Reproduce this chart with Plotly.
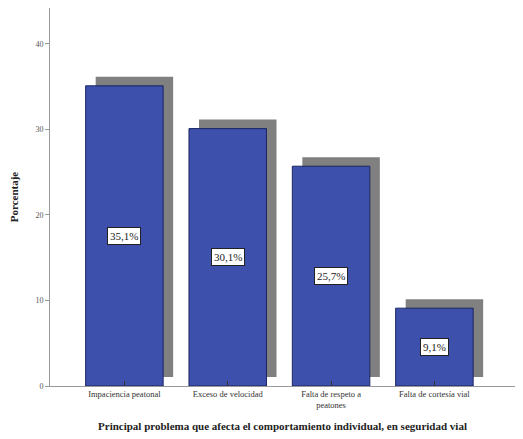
import plotly.graph_objects as go

categories = ["Impaciencia peatonal", "Exceso de velocidad", "Falta de respeto a<br>peatones", "Falta de cortesía vial"]
values = [35.1, 30.1, 25.7, 9.1]
labels = ["35,1%", "30,1%", "25,7%", "9,1%"]
y_ticks = [0, 10, 20, 30, 40]

x_idx = list(range(len(categories)))
bar_w = 0.75
shadow_dx = 0.097
shadow_base = 1.05

fig = go.Figure()
# shadow
fig.add_trace(go.Bar(
    x=x_idx, y=values, base=[shadow_base] * len(values),
    width=bar_w, offset=-bar_w / 2 + shadow_dx,
    marker=dict(color="#808080", line=dict(width=0)),
    hoverinfo="skip", showlegend=False,
))
# main bars
fig.add_trace(go.Bar(
    x=x_idx, y=values,
    width=bar_w, offset=-bar_w / 2,
    marker=dict(color="#3c50ac", line=dict(color="#1c2560", width=1)),
    showlegend=False,
))

for i, (v, lab) in enumerate(zip(values, labels)):
    fig.add_annotation(
        x=i, y=v / 2, text=lab, showarrow=False,
        bgcolor="white", bordercolor="#222", borderwidth=1, borderpad=2,
        font=dict(family="Liberation Serif", size=11, color="#222"),
    )

# page body has an 8px default margin, so the figure is offset accordingly
fig.update_layout(
    width=515, height=431,
    margin=dict(l=42, r=8, t=0, b=53),
    plot_bgcolor="white", paper_bgcolor="white",
    barmode="overlay",
    font=dict(family="Liberation Serif", color="#333"),
)
fig.update_xaxes(
    automargin=False,
    range=[-0.72, 3.78], tickvals=x_idx, ticktext=categories,
    showline=True, linecolor="#999", linewidth=1, showgrid=False, zeroline=False,
    ticks="inside", ticklen=5, tickcolor="#333",
    tickfont=dict(size=8.5, color="#333"),
    title=dict(text="<b>Principal problema que afecta el comportamiento individual, en seguridad vial</b>",
               font=dict(size=11, color="#222"), standoff=13),
)
fig.update_yaxes(
    automargin=False,
    range=[0, 44.2], tickvals=y_ticks,
    showline=True, linecolor="#999", linewidth=1, showgrid=False, zeroline=False,
    ticks="outside", ticklen=4, tickcolor="#999",
    tickfont=dict(size=8, color="#555"),
    title=dict(text="<b>Porcentaje</b>", font=dict(size=11, color="#222"), standoff=14),
)

fig.write_html("out.html")
